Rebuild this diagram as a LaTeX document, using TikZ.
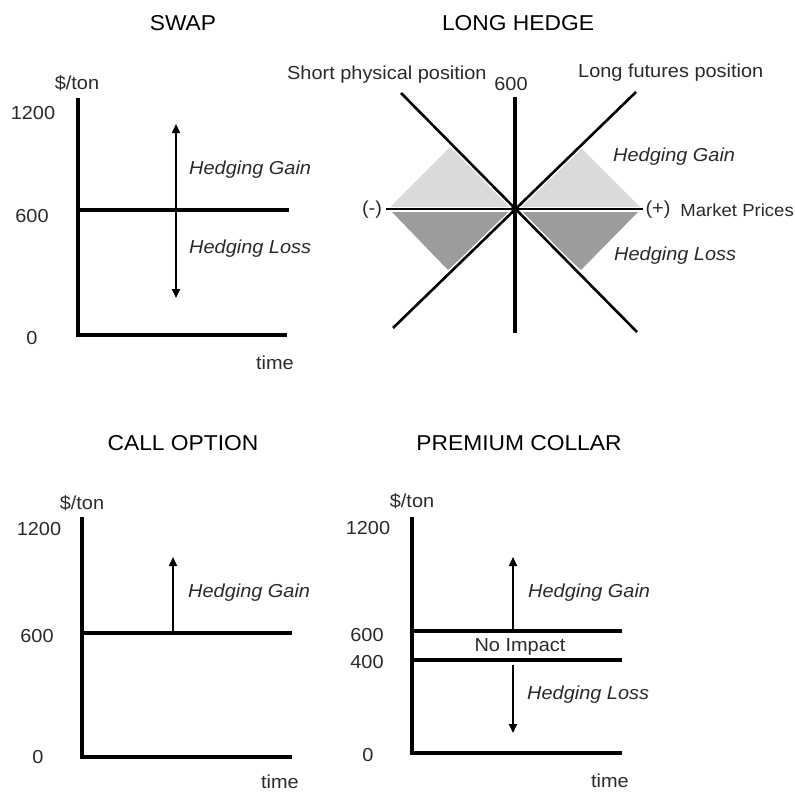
\documentclass[tikz,border=0pt]{standalone}
\usepackage{fontspec}
\setmainfont{Liberation Sans}[FakeStretch=1.06]
\usetikzlibrary{arrows.meta}
\definecolor{txt}{HTML}{2A2A2A}
\definecolor{lightg}{HTML}{DADADA}
\definecolor{darkg}{HTML}{9C9C9C}
\tikzset{
  lbl/.style={text=txt, font=\fontsize{18.8}{21}\selectfont, inner sep=0pt},
  glbl/.style={lbl, font=\fontsize{18.8}{21}\selectfont\itshape, anchor=west},
  ttl/.style={text=black, font=\fontsize{21.5}{24}\selectfont, inner sep=0pt},
  axisline/.style={line width=4pt, line join=miter},
  levelline/.style={line width=3.3pt},
  uparr/.style={line width=2pt, -{Triangle[length=9pt,width=8pt]}},
  dblarr/.style={line width=2pt, {Triangle[length=9pt,width=8pt]}-{Triangle[length=9pt,width=8pt]}},
  diagline/.style={line width=2.6pt},
  halo/.style={line width=5.5pt, white},
}
\begin{document}
\begin{tikzpicture}[x=1pt,y=-1pt]
\path[use as bounding box] (0,0) rectangle (795,792);

% ================= SWAP =================
\node[ttl] (swtitle) at (183,23) {SWAP};
\node[lbl] (swunit) at (77,83) {\$/ton};
\node[lbl] (sw1200) at (33,113) {1200};
\node[lbl] (sw600) at (32,216) {600};
\node[lbl] (sw0) at (32,338) {0};
\node[lbl] (swtime) at (275,363) {time};
\node[glbl] (swgain) at (189,170) {Hedging Gain};
\node[glbl] (swloss) at (189,249) {Hedging Loss};
\coordinate (swtop) at (78,98);
\coordinate (swo) at (78,335);
\coordinate (swright) at (287,335);
\coordinate (swl0) at (80,210);
\coordinate (swl1) at (289,210);
\coordinate (swa0) at (176,298);
\coordinate (swa1) at (176,124);
\draw[axisline] (swtop) -- (swo) -- (swright);
\draw[levelline] (swl0) -- (swl1);
\draw[dblarr] (swa0) -- (swa1);

% ================= LONG HEDGE =================
\node[ttl] (lhtitle) at (518,23) {LONG HEDGE};
\coordinate (lhc) at (515,209);
\fill[lightg] (513,207) -- (390,207) -- (451,146) -- cycle;
\fill[lightg] (517,207) -- (640,207) -- (579,146) -- cycle;
\fill[darkg] (513,212) -- (392,212) -- (448,270) -- cycle;
\fill[darkg] (517,212) -- (638,212) -- (581,270) -- cycle;
\coordinate (lhnw) at (401,93);
\coordinate (lhse) at (637,332);
\coordinate (lhsw) at (393,328);
\coordinate (lhne) at (636,92);
\coordinate (lhtop) at (515,97);
\coordinate (lhbot) at (515,333);
\coordinate (lhleft) at (386,209);
\coordinate (lhright) at (643,209);
\draw[halo] (lhnw) -- (lhse);
\draw[halo] (lhsw) -- (lhne);
\draw[diagline] (lhnw) -- (lhse);
\draw[diagline] (lhsw) -- (lhne);
\draw[line width=2.4pt] (lhleft) -- (lhright);
\draw[line width=4.4pt] (lhtop) -- (lhbot);
\fill (lhc) circle (4pt);
\node[lbl, anchor=west] (lhshort) at (287,75) {Short physical position};
\node[lbl] (lh600) at (511,84) {600};
\node[lbl, anchor=west] (lhlong) at (578,73) {Long futures position};
\node[lbl] (lhminus) at (372,210) {(-)};
\node[lbl] (lhplus) at (658,210) {(+)};
\node[lbl, font=\fontsize{17.5}{20}\selectfont, anchor=east] (lhmarket) at (794,210) {Market Prices};
\node[glbl] (lhgain) at (613,157) {Hedging Gain};
\node[glbl] (lhloss) at (614,256) {Hedging Loss};

% ================= CALL OPTION =================
\node[ttl] (cotitle) at (183,443) {CALL OPTION};
\node[lbl] (counit) at (82,503) {\$/ton};
\node[lbl] (co1200) at (39,529) {1200};
\node[lbl] (co600) at (37,636) {600};
\node[lbl] (co0) at (38,757) {0};
\node[lbl] (cotime) at (280,782) {time};
\node[glbl] (cogain) at (188,593) {Hedging Gain};
\coordinate (cotop) at (82,517);
\coordinate (coo) at (82,757);
\coordinate (coright) at (292,757);
\coordinate (col0) at (84,633);
\coordinate (col1) at (292,633);
\coordinate (coa0) at (173,633);
\coordinate (coa1) at (173,557);
\draw[axisline] (cotop) -- (coo) -- (coright);
\draw[levelline] (col0) -- (col1);
\draw[uparr] (coa0) -- (coa1);

% ================= PREMIUM COLLAR =================
\node[ttl] (pctitle) at (519,443) {PREMIUM COLLAR};
\node[lbl] (pcunit) at (412,501) {\$/ton};
\node[lbl] (pc1200) at (368,528) {1200};
\node[lbl] (pc600) at (367,635) {600};
\node[lbl] (pc400) at (367,662) {400};
\node[lbl] (pc0) at (368,755) {0};
\node[lbl] (pctime) at (610,781) {time};
\node[lbl] (pcnoimp) at (520,647) {No Impact};
\node[glbl] (pcgain) at (528,593) {Hedging Gain};
\node[glbl] (pcloss) at (527,695) {Hedging Loss};
\coordinate (pctop) at (412,517);
\coordinate (pco) at (412,753);
\coordinate (pcright) at (622,753);
\coordinate (pch0) at (414,631);
\coordinate (pch1) at (622,631);
\coordinate (pcm0) at (414,660);
\coordinate (pcm1) at (622,660);
\coordinate (pcu0) at (513,631);
\coordinate (pcu1) at (513,557);
\coordinate (pcd0) at (513,665);
\coordinate (pcd1) at (513,733);
\draw[axisline] (pctop) -- (pco) -- (pcright);
\draw[levelline] (pch0) -- (pch1);
\draw[levelline] (pcm0) -- (pcm1);
\draw[uparr] (pcu0) -- (pcu1);
\draw[uparr] (pcd0) -- (pcd1);
\end{tikzpicture}
\end{document}
